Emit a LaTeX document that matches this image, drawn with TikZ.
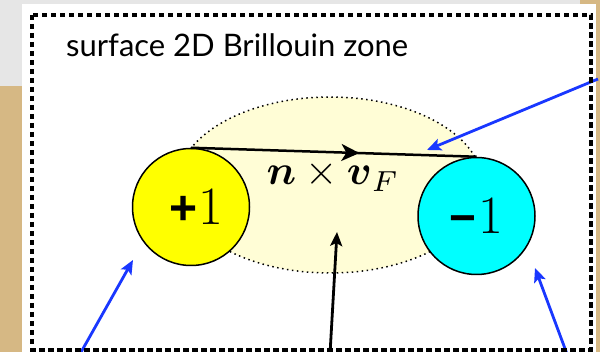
\documentclass[tikz,border=0pt]{standalone}
\usepackage{fontspec}
\usepackage{amsmath}
\usepackage{graphicx}
\usetikzlibrary{arrows.meta,decorations.markings,shapes.geometric}
\newfontfamily\titlefont{Lato}
\newfontfamily\arialfont{Liberation Sans}
\definecolor{slidegray}{RGB}{230,230,230}
\definecolor{slidetan}{RGB}{214,184,132}
\definecolor{bzfill}{RGB}{255,253,214}
\definecolor{arrowblue}{RGB}{25,55,255}
\definecolor{plusyellow}{RGB}{255,255,0}
\definecolor{minuscyan}{RGB}{0,255,255}
\begin{document}
\begin{tikzpicture}[x=1pt,y=-1pt,
  bzcircle/.style={circle, draw=black, line width=1.5pt, minimum size=117pt, inner sep=0pt},
  zoneshape/.style={ellipse, draw=black, fill=bzfill, line width=1.5pt, dash pattern=on 1.5pt off 3.5pt, minimum width=306pt, minimum height=176pt, inner sep=0pt},
  bluearrow/.style={draw=arrowblue, line width=2.8pt, -{Stealth[length=14pt,width=12pt,inset=3pt]}},
  blackarrow/.style={draw=black, line width=2.8pt, -{Stealth[length=14pt,width=12pt,inset=3pt]}},
  frameline/.style={draw=black, line width=3.5pt, dash pattern=on 5.5pt off 3.5pt},
  chargetext/.style={font=\fontsize{54}{54}\selectfont}
]
\useasboundingbox (0,0) rectangle (600,352);
% slide background
\fill[slidetan] (0,0) rectangle (600,352);
\fill[slidegray] (0,0) rectangle (580,86);
\fill[white] (22,4) rectangle (596,352);
% zone
\node[zoneshape] (zone) at (330,185) {};
% charges
\node[bzcircle, fill=plusyellow, chargetext] (plus) at (191,207) {\kern10pt{\arialfont\bfseries\fontsize{48}{48}\selectfont +}\kern1pt 1};
\node[bzcircle, fill=minuscyan, chargetext] (minus) at (476.5,216) {{\arialfont\bfseries\fontsize{46}{46}\selectfont −}\kern2pt 1};
% edge state line
\draw[line width=2.5pt, postaction={decorate},
  decoration={markings, mark=at position 0.59 with {\arrow{Stealth[length=18pt,width=17pt,inset=5pt]}}}]
  (plus.north) -- (minus.north);
\node[anchor=base, inner sep=0pt] (nv) at (333,185) {\scalebox{4.15}{$\boldsymbol{n}\times\boldsymbol{v}_F$}};
% title
\node[anchor=base west, inner sep=0pt] (title) at (66,57) {\titlefont\fontsize{31}{31}\selectfont surface 2D Brillouin zone};
% arrows
\coordinate (a1s) at (598,79);
\coordinate (a1e) at (427,150);
\coordinate (a2s) at (80,354);
\coordinate (a2e) at (133,260);
\coordinate (a3s) at (567,354);
\coordinate (a3e) at (535,268);
\coordinate (a4s) at (330,354);
\coordinate (a4e) at (337,232);
\draw[bluearrow] (a1s) -- (a1e);
\draw[bluearrow] (a2s) -- (a2e);
\draw[bluearrow] (a3s) -- (a3e);
\draw[blackarrow] (a4s) -- (a4e);
% frame
\draw[frameline] (32,15) rectangle (591,350);
\end{tikzpicture}
\end{document}
